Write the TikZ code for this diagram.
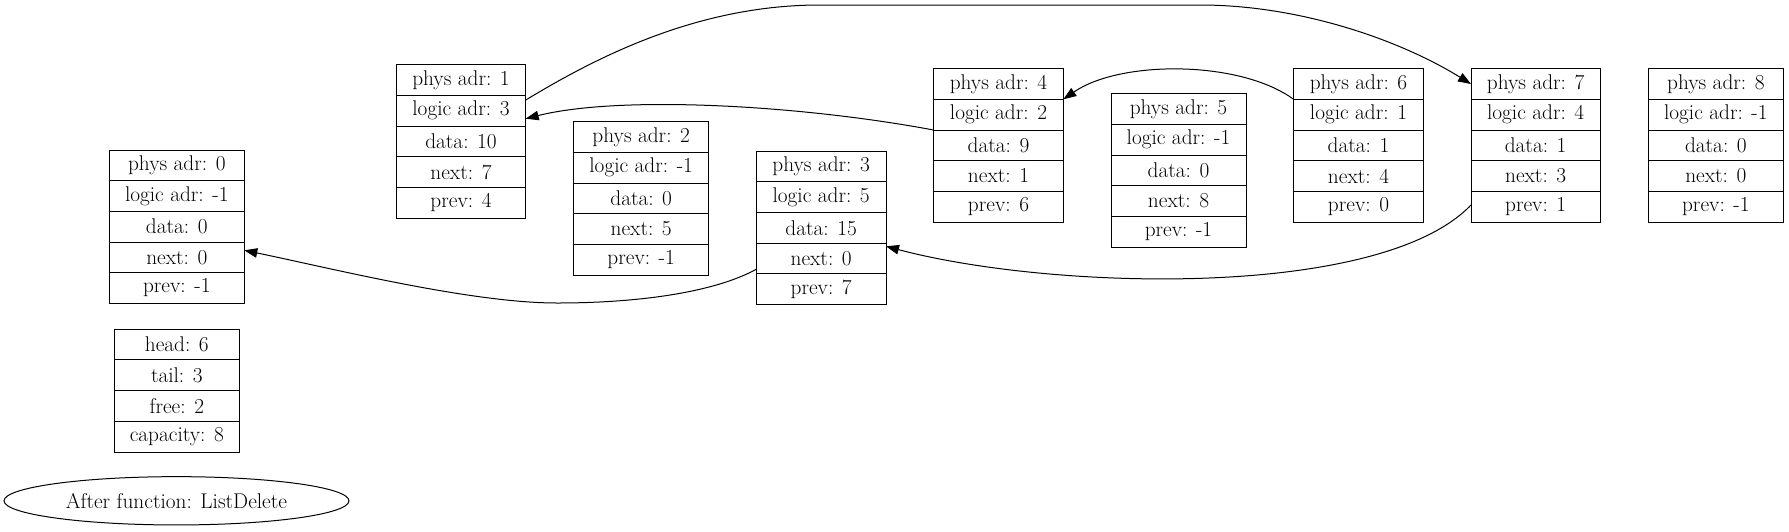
\documentclass[tikz,border=0pt]{standalone}
\usetikzlibrary{arrows.meta,shapes.geometric}
\tikzset{
  field/.style={draw, line width=1pt, minimum height=30.667pt, inner sep=0pt, outer sep=0pt,
    font=\fontsize{21.3}{25}\selectfont},
  arr/.style={line width=1pt, -{Triangle[length=13pt,width=9.5pt]}},
}
\newcommand\recfive[9]{%
  \pgfmathsetmacro\rcx{#2+#4/2}%
  \node[field,minimum width=#4pt] (#1-1) at (\rcx,#3+15.333) {#5};
  \node[field,minimum width=#4pt] (#1-2) at (\rcx,#3+46) {#6};
  \node[field,minimum width=#4pt] (#1-3) at (\rcx,#3+76.667) {#7};
  \node[field,minimum width=#4pt] (#1-4) at (\rcx,#3+107.333) {#8};
  \node[field,minimum width=#4pt] (#1-5) at (\rcx,#3+138) {#9};
}
\begin{document}
\begin{tikzpicture}[x=1pt,y=-1pt]
\useasboundingbox (0,0) rectangle (1789,531);
\recfive{n0}{109.3}{150}{135}{phys adr: 0}{logic adr: -1}{data: 0}{next: 0}{prev: -1}
\recfive{n1}{396.3}{64.7}{129.4}{phys adr: 1}{logic adr: 3}{data: 10}{next: 7}{prev: 4}
\recfive{n2}{573.7}{121.7}{135}{phys adr: 2}{logic adr: -1}{data: 0}{next: 5}{prev: -1}
\recfive{n3}{756.3}{151.3}{129.7}{phys adr: 3}{logic adr: 5}{data: 15}{next: 0}{prev: 7}
\recfive{n4}{933.7}{68.7}{129.6}{phys adr: 4}{logic adr: 2}{data: 9}{next: 1}{prev: 6}
\recfive{n5}{1111}{93.7}{135}{phys adr: 5}{logic adr: -1}{data: 0}{next: 8}{prev: -1}
\recfive{n6}{1293.7}{68.7}{129.6}{phys adr: 6}{logic adr: 1}{data: 1}{next: 4}{prev: 0}
\recfive{n7}{1471}{68.7}{129.3}{phys adr: 7}{logic adr: 4}{data: 1}{next: 3}{prev: 1}
\recfive{n8}{1648.7}{68.7}{134.3}{phys adr: 8}{logic adr: -1}{data: 0}{next: 0}{prev: -1}
% list info
\node[field,minimum width=125.7pt] (s1) at (176.85,344.6) {head: 6};
\node[field,minimum width=125.7pt] (s2) at (176.85,375.3) {tail: 3};
\node[field,minimum width=125.7pt] (s3) at (176.85,406) {free: 2};
\node[field,minimum width=125.7pt] (s4) at (176.85,436.7) {capacity: 8};
% caption
\node[draw, line width=1pt, ellipse, minimum width=345pt, minimum height=48.3pt, inner sep=0pt,
  font=\fontsize{21.3}{25}\selectfont] (cap) at (176.5,500.8) {After function: ListDelete};
% edges
\draw[arr] ([yshift=-4.7pt]n1-2.north east) .. controls (600,55) and (700,5) .. (820,5)
  -- (1200,5) .. controls (1300,5) and (1400,40) .. (n7-1.west);
\draw[arr] (n4-3.north west) .. controls (800,105) and (620,95) .. ([yshift=-8pt]n1-2.east);
\draw[arr] (n6-2.north west) .. controls (1240,60) and (1120,60) .. (n4-2.north east);
\draw[arr] ([yshift=1.7pt]n7-5.west) .. controls (1380,300) and (1050,290) .. ([yshift=-3pt]n3-4.north east);
\draw[arr] ([yshift=-10.6pt]n3-4.west) .. controls (715,292) and (640,303) .. (557,303)
  .. controls (470,303) and (330,268) .. ([yshift=7pt]n0-4.east);
\end{tikzpicture}
\end{document}
